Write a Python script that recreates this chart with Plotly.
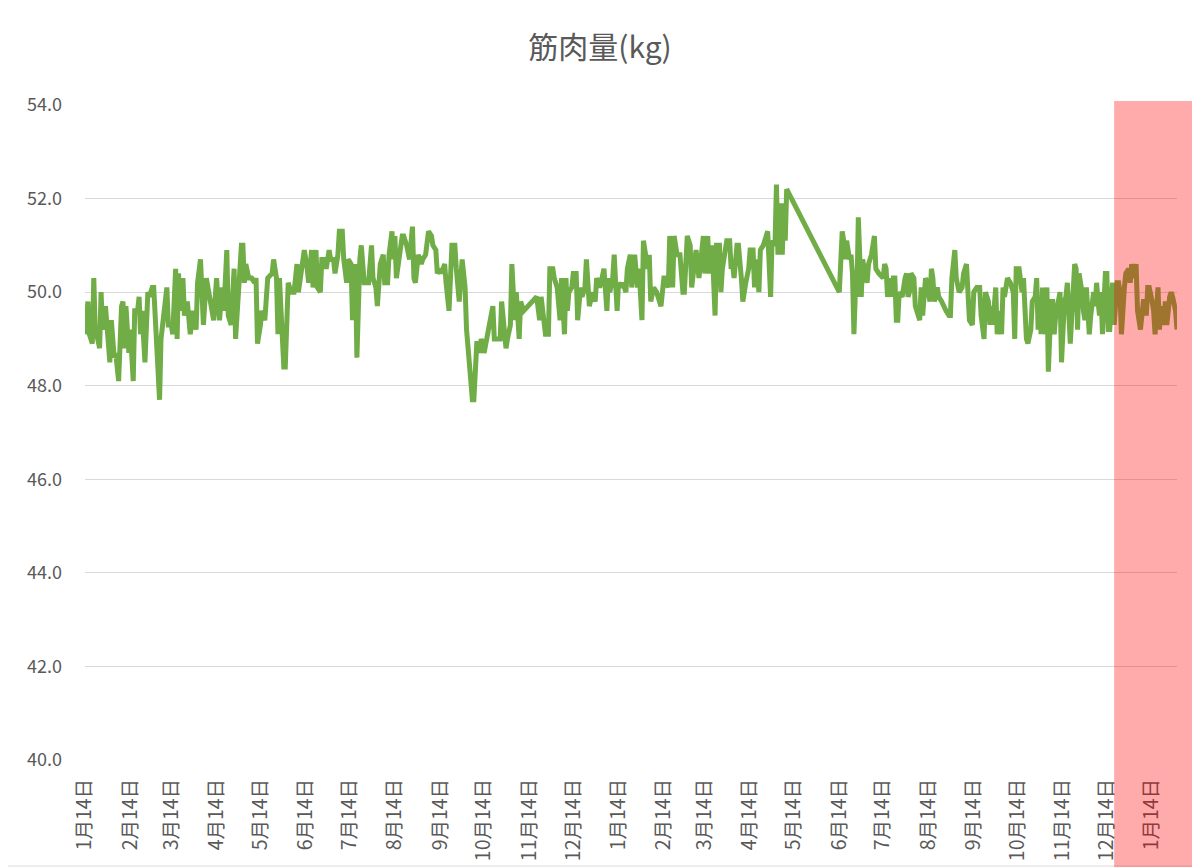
import pandas as pd
import plotly.graph_objects as go

# ---- data: day offsets from the first measurement, and muscle mass (kg) ----
start_date = "2021-01-14"

days_y1a = [0, 2, 3, 5, 6, 7, 8, 10, 11, 12, 14, 15, 17, 18, 20, 21, 23, 25, 26, 27,
            28, 30, 31, 33, 34, 36, 37, 38, 39, 41, 43, 44, 46, 47, 49, 51, 52, 54, 56, 57,
            59, 60, 62, 63, 64, 65, 67, 68, 70, 72, 74, 76, 77, 79, 80, 81, 83, 85, 87, 88,
            90, 92, 94, 95, 97, 98, 100, 102, 103, 105, 107, 108, 109, 110, 112, 114, 116, 117, 118, 120,
            121, 123, 125]
muscle_y1a = [49.1, 49.8, 49.1, 48.9, 50.3, 49.2, 49.1, 48.8, 50.0, 49.2,
              49.7, 49.2, 48.5, 49.4, 48.6, 48.7, 48.1, 49.7, 49.8, 48.8,
              49.7, 48.7, 49.2, 48.1, 49.6, 49.6, 49.9, 49.1, 49.6, 48.5,
              50.0, 49.9, 50.1, 50.1, 49.1, 47.7, 49.0, 49.5, 50.1, 49.3,
              49.3, 49.1, 50.5, 49.0, 50.4, 49.6, 50.3, 49.5, 49.8, 49.1,
              49.6, 49.2, 50.2, 50.7, 50.2, 49.3, 50.3, 49.9, 49.5, 49.4,
              50.3, 49.4, 50.1, 49.6, 50.9, 49.5, 49.3, 50.5, 49.0, 50.1,
              51.0, 51.0, 50.2, 50.6, 50.3, 50.3, 50.2, 50.3, 48.9, 49.3,
              49.6, 49.4, 50.3]

days_y1b = [128, 129, 131, 132, 133, 135, 136, 137, 139, 140, 141, 143, 145, 146, 148, 150, 152, 153, 155, 156,
            158, 159, 161, 162, 164, 165, 167, 168, 170, 171, 173, 174, 176, 177, 179, 180, 182, 183, 185, 186,
            188, 189, 191, 193, 194, 196, 197, 199, 200, 202, 204, 205, 207, 208, 210, 211, 212, 213, 215, 217,
            218, 220, 222, 224, 225, 226, 228, 230, 231, 233, 235, 237, 238, 240, 241, 243, 244, 246, 247, 249,
            251, 253, 254, 256]
muscle_y1b = [50.4, 50.7, 50.3, 49.1, 50.3, 49.1, 48.4, 48.4, 50.2, 50.1,
              50.0, 50.0, 50.6, 50.0, 50.5, 50.9, 50.5, 50.2, 50.9, 50.1,
              50.9, 50.1, 50.0, 50.7, 50.7, 50.5, 50.9, 50.7, 50.7, 50.4,
              50.8, 51.3, 51.3, 50.7, 50.2, 50.7, 50.6, 49.4, 50.6, 48.6,
              50.7, 51.0, 50.2, 50.2, 50.2, 51.0, 50.3, 50.1, 49.7, 50.6,
              50.8, 50.2, 50.2, 50.8, 51.3, 50.7, 51.2, 50.3, 50.8, 51.2,
              51.2, 51.0, 50.7, 51.4, 50.3, 50.2, 50.8, 50.6, 50.7, 50.8,
              51.3, 51.2, 51.0, 50.9, 50.4, 50.5, 50.4, 50.6, 50.2, 49.6,
              51.0, 51.0, 50.5, 49.8]

days_y1c = [258, 260, 261, 263, 265, 266, 268, 269, 270, 271, 272, 273, 275, 277, 279, 280, 282, 284, 285, 287,
            288, 289, 291, 292, 294, 295, 297, 298, 300, 309, 311, 312, 314, 315, 317, 318, 320, 321, 323, 325,
            326, 328, 329, 330, 331, 333, 334, 336, 337, 339, 340, 342, 343, 345, 347, 349, 350, 352, 353, 355,
            357, 358, 359, 361, 362, 364, 365, 367, 368, 370, 371, 373, 374, 376, 378, 379, 381, 382, 384, 385,
            386]
muscle_y1c = [50.7, 50.1, 49.2, 48.4, 47.7, 47.7, 48.9, 48.9, 48.7, 49.0,
              48.9, 48.7, 49.0, 49.3, 49.7, 49.0, 49.0, 49.0, 49.8, 49.0,
              48.8, 49.0, 49.3, 50.6, 49.4, 50.0, 49.0, 49.8, 49.6, 49.9,
              49.4, 49.9, 49.4, 49.1, 49.1, 50.5, 50.5, 50.3, 50.1, 49.4,
              50.3, 49.1, 50.3, 49.6, 50.0, 50.1, 50.4, 50.4, 49.4, 50.1,
              49.9, 50.1, 50.7, 49.7, 50.0, 49.8, 50.3, 50.1, 50.2, 50.5,
              49.6, 50.3, 50.0, 50.3, 50.8, 49.6, 50.2, 50.1, 50.2, 50.0,
              50.5, 50.8, 50.1, 50.8, 50.1, 50.5, 49.4, 51.1, 50.7, 50.5,
              50.8]

days_y2a = [387, 389, 391, 393, 394, 396, 397, 399, 400, 402, 403, 405, 407, 409, 410, 412, 414, 415, 417, 418,
            420, 421, 423, 424, 426, 427, 429, 431, 432, 434, 435, 436, 438, 439, 441, 442, 443, 444, 446, 447,
            449, 450, 452, 454, 455, 457, 458, 459, 461, 462, 464, 465, 467, 469, 470, 472, 473, 474, 476, 477,
            478, 479, 480, 516]
muscle_y2a = [49.8, 50.1, 50.0, 49.8, 49.7, 50.3, 50.3, 50.1, 51.2, 50.1,
              51.2, 50.8, 50.8, 50.0, 50.0, 51.2, 51.0, 50.1, 50.7, 50.9,
              50.3, 50.6, 51.2, 50.4, 51.2, 50.4, 51.0, 49.5, 51.0, 51.0,
              50.0, 50.5, 50.9, 51.1, 51.1, 50.5, 50.6, 50.3, 51.0, 51.0,
              50.3, 49.8, 50.2, 50.5, 50.9, 50.9, 50.1, 50.7, 50.0, 50.9,
              51.0, 51.1, 51.3, 49.9, 51.1, 51.0, 52.3, 50.8, 51.9, 50.8,
              51.9, 51.1, 52.2, 50.0]

days_y2b = [518, 519, 520, 521, 523, 524, 525, 526, 527, 528, 529, 531, 532, 533, 535, 536, 538, 540, 541, 543,
            545, 546, 547, 548, 549, 551, 552, 553, 554, 555, 556, 557, 559, 560, 561, 562, 563, 564, 565, 567,
            568, 570, 571, 572, 573, 575, 576, 578, 579, 580, 581, 583, 584, 586, 588, 589, 591, 592, 593, 595,
            596, 598, 600, 601, 603, 604, 605, 607, 608, 610, 612, 613, 615, 616, 618, 619, 620, 621, 623, 624,
            625, 627, 628, 629, 631, 633, 634]
muscle_y2b = [51.3, 51.1, 50.7, 51.1, 50.7, 50.8, 50.4, 49.1, 50.0, 49.9,
              51.6, 49.9, 50.7, 50.5, 50.2, 50.6, 50.8, 51.2, 50.5, 50.4,
              50.3, 50.3, 50.6, 50.5, 49.9, 50.3, 49.9, 50.3, 50.3, 49.4,
              49.4, 50.0, 49.9, 50.2, 50.3, 50.4, 49.9, 50.0, 50.4, 50.3,
              49.7, 49.5, 49.4, 50.1, 49.5, 50.3, 50.2, 49.8, 50.5, 50.3,
              49.8, 50.1, 49.9, 49.8, 49.7, 49.6, 49.5, 49.5, 50.3, 50.9,
              50.3, 50.0, 50.1, 50.4, 50.6, 50.0, 49.4, 49.3, 50.0, 50.1,
              50.1, 49.5, 49.0, 50.0, 49.8, 49.3, 49.7, 49.3, 50.1, 49.1,
              49.6, 49.1, 50.1, 49.9, 50.3, 50.2, 50.1]

days_y2c = [635, 636, 637, 639, 640, 641, 642, 643, 644, 645, 647, 648, 650, 651, 652, 653, 654, 655, 656, 658,
            659, 660, 661, 662, 663, 664, 666, 667, 668, 669, 670, 671, 672, 674, 675, 676, 677, 678, 679, 680,
            682, 683, 684, 685, 686, 687, 688, 690, 691, 692, 693, 694, 695, 696, 698, 699, 700, 701, 702, 703,
            704, 706, 707, 708, 709, 710, 711, 712, 714, 715, 716, 717, 718, 719, 720, 722, 723, 724, 725, 726,
            727, 728, 730, 731, 732, 733, 734, 735, 736, 738, 739, 740, 741, 742, 743, 744, 746, 747]
muscle_y2c = [50.0, 49.0, 50.5, 50.5, 50.3, 50.0, 50.3, 49.2, 49.0, 48.9,
              49.2, 49.8, 49.9, 50.3, 49.2, 49.9, 49.1, 50.1, 49.1, 50.1,
              48.3, 49.1, 49.8, 49.8, 49.1, 49.5, 49.9, 50.0, 48.5, 49.5,
              49.8, 49.9, 50.2, 48.9, 49.5, 49.6, 50.6, 50.5, 49.2, 50.4,
              50.0, 49.6, 49.4, 50.1, 49.3, 49.1, 49.5, 50.0, 49.7, 50.2,
              49.8, 49.5, 50.0, 49.1, 50.4, 50.4, 49.2, 49.2, 49.8, 50.2,
              49.3, 50.2, 50.2, 50.0, 49.1, 49.8, 50.1, 50.4, 50.5, 50.2,
              50.6, 50.3, 50.4, 50.6, 49.6, 49.2, 49.6, 49.8, 49.8, 49.5,
              50.1, 50.1, 49.8, 49.6, 49.1, 49.6, 50.1, 49.2, 49.7, 49.3,
              49.8, 49.3, 49.7, 49.9, 50.0, 49.9, 49.6, 49.2]

highlight_day = 704

days = days_y1a + days_y1b + days_y1c + days_y2a + days_y2b + days_y2c
muscle = muscle_y1a + muscle_y1b + muscle_y1c + muscle_y2a + muscle_y2b + muscle_y2c
dates = pd.to_datetime(start_date) + pd.to_timedelta(days, unit="D")

# ---- geometry: target pixels on the screenshot; the page body adds an 8px offset ----
W, H = 1200, 867
OFF = 8
plot_left, plot_right, plot_top, plot_bottom = 85, 1177, 105, 760
ml = plot_left - OFF
mt = plot_top - OFF
mr = W - (plot_right - OFF)
mb = H - (plot_bottom - OFF)
pw, ph = W - ml - mr, H - mt - mb

def px_x(p):
    return (p - plot_left) / pw

def px_y(p):
    return (plot_bottom - p) / ph

text_color = "#595959"
font_family = "Noto Sans CJK JP, Noto Sans, sans-serif"

fig = go.Figure()

fig.add_trace(
    go.Scatter(
        x=dates,
        y=muscle,
        mode="lines",
        name="筋肉量",
        line=dict(color="#70AD47", width=5),
        hovertemplate="%{x|%Y/%m/%d}: %{y:.1f}kg<extra></extra>",
    )
)

# chart border (only the bottom/right edges fall inside the page)
fig.add_shape(
    type="rect", xref="paper", yref="paper",
    x0=px_x(1), x1=px_x(1198), y0=px_y(866), y1=px_y(1),
    line=dict(color="#D9D9D9", width=1), layer="below",
)

# red highlight over the last weeks
hl_x0 = (highlight_day - days[0]) / (days[-1] - days[0])
fig.add_shape(
    type="rect", xref="paper", yref="paper",
    x0=hl_x0, x1=px_x(1206), y0=px_y(880), y1=px_y(101),
    fillcolor="rgba(255,0,0,0.33)", line=dict(width=0), layer="above",
)

fig.update_layout(
    width=W,
    height=H,
    margin=dict(l=ml, r=mr, t=mt, b=mb),
    paper_bgcolor="white",
    plot_bgcolor="white",
    showlegend=False,
    font=dict(family=font_family, color=text_color),
    title=dict(
        text="筋肉量(kg)",
        x=px_x(600), xref="paper", xanchor="center",
        yref="container", y=1 - (47 - OFF) / H, yanchor="middle",
        font=dict(size=30, color=text_color),
    ),
)

fig.update_xaxes(
    type="date",
    range=[dates[0], dates[-1]],
    tick0=start_date,
    dtick="M1",
    tickformat="%-m月%-d日",
    tickangle=-90,
    ticks="",
    showgrid=False,
    zeroline=False,
    showline=False,
    tickfont=dict(size=19.5, color=text_color),
    ticklabelstandoff=14,
)

fig.update_yaxes(
    range=[40, 54],
    dtick=2,
    tickformat=".1f",
    gridcolor="#D9D9D9",
    gridwidth=1,
    zeroline=False,
    showline=False,
    ticks="",
    tickfont=dict(size=18, color=text_color),
    ticklabelstandoff=22,
)

fig.write_html("out.html")
